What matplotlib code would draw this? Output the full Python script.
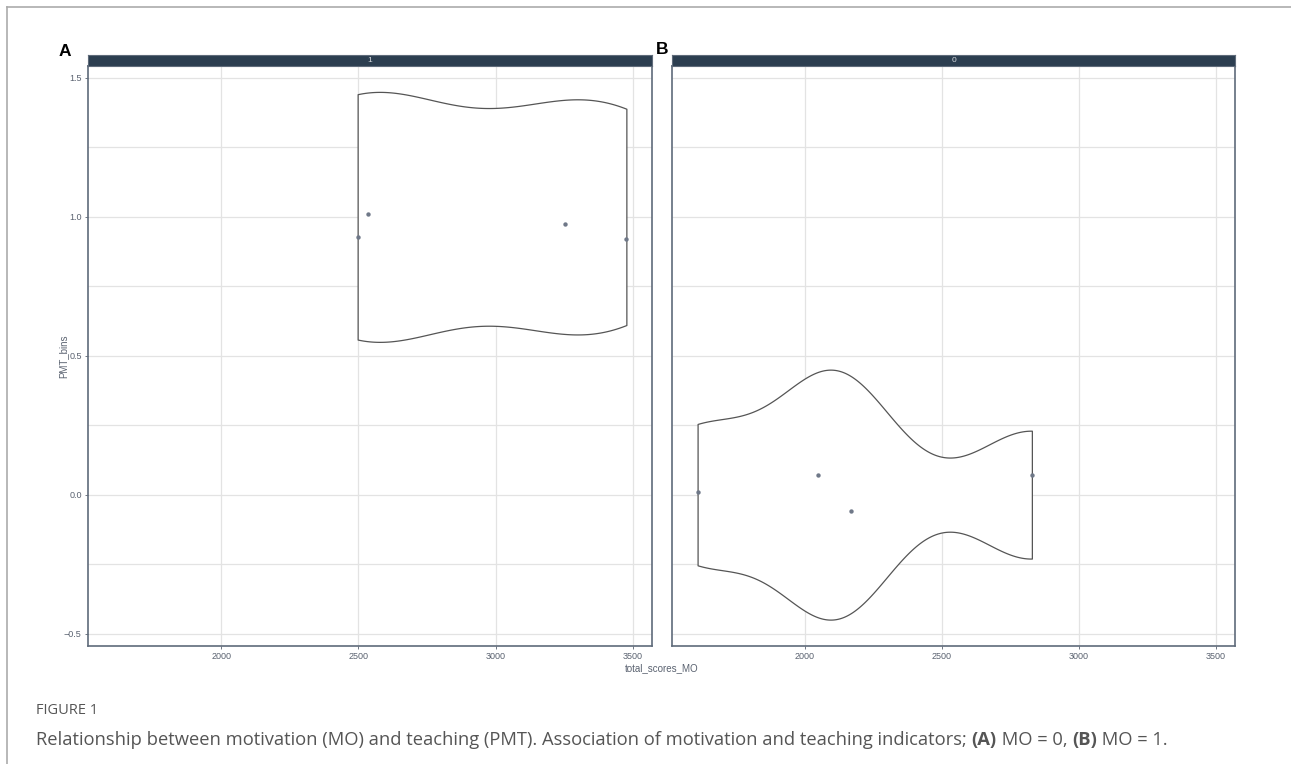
import matplotlib.pyplot as plt
import numpy as np
from matplotlib.lines import Line2D

# facet "1": total_scores_MO of each subject and its (jittered) PMT_bins value
a_scores = [2497, 2534, 3254, 3476]
a_pmt = [0.928, 1.011, 0.975, 0.921]
a_level = 1.0

# facet "0"
b_scores = [1608, 2048, 2167, 2828]
b_pmt = [0.008, 0.069, -0.058, 0.072]
b_level = 0.0

strip_labels = ["1", "0"]
panel_letters = ["A", "B"]
x_ticks = [2000, 2500, 3000, 3500]
y_ticks = [-0.5, 0.0, 0.5, 1.0, 1.5]
y_minor = [-0.25, 0.25, 0.75, 1.25]

W, H = 1291, 764
violin_width = 0.9


def nrd0_factor(kde):
    # R's bw.nrd0 expressed as a factor of the sample sd
    x = kde.dataset.ravel()
    sd = np.std(x, ddof=1)
    q75, q25 = np.percentile(x, [75, 25])
    lo = min(sd, (q75 - q25) / 1.34)
    return 0.9 * lo * len(x) ** -0.2 / sd


# shared axis limits with ggplot-style 5% expansion
all_x = np.array(a_scores + b_scores)
xpad = 0.05 * (all_x.max() - all_x.min())
xlim = (all_x.min() - xpad, all_x.max() + xpad)
ylo, yhi = b_level - violin_width / 2, a_level + violin_width / 2
ypad = 0.05 * (yhi - ylo)
ylim = (ylo - ypad, yhi + ypad)

fig = plt.figure(figsize=(W / 100, H / 100), dpi=100)
plt.rcParams['font.family'] = ['Liberation Sans', 'DejaVu Sans']

edge = '#5f6b7a'
tick_col = '#5a6270'
grid_col = '#e3e3e3'

panels = [(88, 652, a_scores, a_pmt, a_level), (672, 1235, b_scores, b_pmt, b_level)]
top, bottom = 65.5, 646

for i, (x0, x1, xs, ys, lev) in enumerate(panels):
    ax = fig.add_axes([x0 / W, 1 - bottom / H, (x1 - x0) / W, (bottom - top) / H])
    ax.set_xlim(xlim)
    ax.set_ylim(ylim)
    ax.set_xticks(x_ticks)
    ax.set_yticks(y_ticks)
    ax.set_yticks(y_minor, minor=True)
    ax.grid(True, which='both', color=grid_col, lw=0.9, zorder=0)
    ax.tick_params(which='major', labelsize=6.5, colors=tick_col, length=2.5, width=0.6, pad=2)
    ax.tick_params(which='minor', length=0)
    ax.tick_params(axis='x', pad=2)
    if i == 1:
        ax.tick_params(axis='y', which='both', labelleft=False, length=0)
    for s in ax.spines.values():
        s.set_color(edge)
        s.set_linewidth(1.2)
    ax.set_axisbelow(True)

    vp = ax.violinplot([xs], positions=[lev], orientation='horizontal', widths=violin_width,
                       showextrema=False, points=300, bw_method=nrd0_factor)
    for body in vp['bodies']:
        body.set_facecolor('white')
        body.set_edgecolor('#555555')
        body.set_linewidth(0.9)
        body.set_alpha(1)
        body.set_zorder(2)
    ax.scatter(xs, ys, s=10, color='#6f7888', zorder=3, linewidths=0)

    # facet strip
    sax = fig.add_axes([x0 / W, 1 - top / H, (x1 - x0) / W, 10.5 / H])
    sax.set_facecolor('#2c3e50')
    sax.set_xticks([])
    sax.set_yticks([])
    for s in sax.spines.values():
        s.set_color(edge)
        s.set_linewidth(0.8)
    sax.text(0.5, 0.45, strip_labels[i], ha='center', va='center', fontsize=6, color='#d4d8dd',
             transform=sax.transAxes)

# panel letters
fig.text(65 / W, 1 - 52 / H, panel_letters[0], ha='center', va='center', fontsize=12.5,
         fontweight='bold', color='black')
fig.text(662 / W, 1 - 50 / H, panel_letters[1], ha='center', va='center', fontsize=12.5,
         fontweight='bold', color='black')

# axis titles
fig.text(63 / W, 1 - 356 / H, 'PMT_bins', rotation=90, ha='center', va='center', fontsize=7,
         color=tick_col)
fig.text(662 / W, 1 - 668 / H, 'total_scores_MO', ha='center', va='center', fontsize=7,
         color=tick_col)

# page frame
fig.add_artist(Line2D([7 / W, 1], [1 - 7 / H, 1 - 7 / H], color='#ababab', lw=1.2))
fig.add_artist(Line2D([7 / W, 7 / W], [0, 1 - 7 / H], color='#ababab', lw=1.2))

# caption
cap_col = '#555555'
cap_x = 36
fig.text(cap_x / W, 1 - 711 / H, 'FIGURE 1', ha='left', va='center', fontsize=10.5,
         color=cap_col, family=['Open Sans', 'DejaVu Sans'])

runs = [
    ("Relationship between motivation (MO) and teaching (PMT). Association of motivation "
     "and teaching indicators; ", 'normal'),
    ("(A)", 'bold'),
    (" MO = 0, ", 'normal'),
    ("(B)", 'bold'),
    (" MO = 1.", 'normal'),
]
renderer = fig.canvas.get_renderer()
x = cap_x
for txt, wt in runs:
    t = fig.text(x / W, 1 - 740 / H, txt, ha='left', va='center', fontsize=13.2,
                 color=cap_col, fontweight=wt, family=['Open Sans', 'DejaVu Sans'])
    x += t.get_window_extent(renderer).width

fig.savefig('out.png', dpi=100)
